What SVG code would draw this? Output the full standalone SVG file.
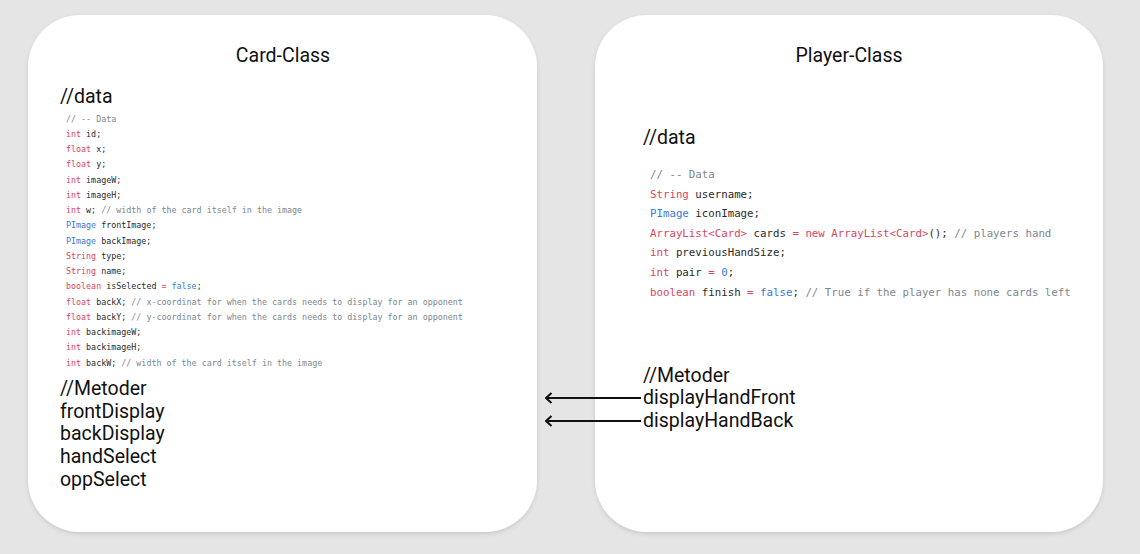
<svg xmlns="http://www.w3.org/2000/svg" width="1140" height="554" viewBox="0 0 1140 554">
<style>
.bg{fill:#e5e5e5}
.card{fill:#ffffff}
.title{font-family:Roboto,"Liberation Sans",sans-serif;font-size:19.5px;fill:#111;text-anchor:middle}
.big{font-family:Roboto,"Liberation Sans",sans-serif;font-size:19.5px;fill:#111}
.cs{font-family:"DejaVu Sans Mono","Liberation Mono",monospace;font-size:8.35px;fill:#2a2a2a}
.cl{font-family:"DejaVu Sans Mono","Liberation Mono",monospace;font-size:10.75px;fill:#2a2a2a}
.k{fill:#d9455f}
.b{fill:#3a78d6}
.c{fill:#7c8790}
.conn{stroke:#111;stroke-width:2;fill:none}
</style>
<defs>
<filter id="sh" x="-5%" y="-5%" width="110%" height="110%">
<feDropShadow dx="0" dy="2" stdDeviation="2" flood-color="#000" flood-opacity="0.12"/>
</filter>
<marker id="ah" viewBox="0 0 12 12" refX="11" refY="6" markerWidth="12" markerHeight="12" markerUnits="userSpaceOnUse" orient="auto">
<path d="M5.5,1 L11,6 L5.5,11" fill="none" stroke="#111" stroke-width="2"/>
</marker>
</defs>
<rect class="bg" x="0" y="0" width="1140" height="554"/>
<g id="card-class">
<rect class="card" x="28" y="15" width="509" height="517" rx="52" filter="url(#sh)"/>
<text class="title" x="283" y="62">Card-Class</text>
<text class="big" x="60" y="103">//data</text>
<text class="cs" x="66" y="122"><tspan class="c">// -- Data</tspan></text>
<text class="cs" x="66" y="137"><tspan class="k">int</tspan> id;</text>
<text class="cs" x="66" y="152"><tspan class="k">float</tspan> x;</text>
<text class="cs" x="66" y="167"><tspan class="k">float</tspan> y;</text>
<text class="cs" x="66" y="183"><tspan class="k">int</tspan> imageW;</text>
<text class="cs" x="66" y="198"><tspan class="k">int</tspan> imageH;</text>
<text class="cs" x="66" y="213"><tspan class="k">int</tspan> w; <tspan class="c">// width of the card itself in the image</tspan></text>
<text class="cs" x="66" y="228"><tspan class="b">PImage</tspan> frontImage;</text>
<text class="cs" x="66" y="244"><tspan class="b">PImage</tspan> backImage;</text>
<text class="cs" x="66" y="259"><tspan class="k">String</tspan> type;</text>
<text class="cs" x="66" y="274"><tspan class="k">String</tspan> name;</text>
<text class="cs" x="66" y="289"><tspan class="k">boolean</tspan> isSelected <tspan class="k">=</tspan> <tspan class="b">false</tspan>;</text>
<text class="cs" x="66" y="305"><tspan class="k">float</tspan> backX; <tspan class="c">// x-coordinat for when the cards needs to display for an opponent</tspan></text>
<text class="cs" x="66" y="320"><tspan class="k">float</tspan> backY; <tspan class="c">// y-coordinat for when the cards needs to display for an opponent</tspan></text>
<text class="cs" x="66" y="335"><tspan class="k">int</tspan> backimageW;</text>
<text class="cs" x="66" y="350"><tspan class="k">int</tspan> backimageH;</text>
<text class="cs" x="66" y="366"><tspan class="k">int</tspan> backW; <tspan class="c">// width of the card itself in the image</tspan></text>
<text class="big" x="60" y="395">//Metoder</text>
<text class="big" x="60" y="418">frontDisplay</text>
<text class="big" x="60" y="440">backDisplay</text>
<text class="big" x="60" y="463">handSelect</text>
<text class="big" x="60" y="486">oppSelect</text>
</g>
<g id="player-class">
<rect class="card" x="595" y="15" width="508" height="517" rx="52" filter="url(#sh)"/>
<text class="title" x="849" y="62">Player-Class</text>
<text class="big" x="643" y="144">//data</text>
<text class="cl" x="650" y="178"><tspan class="c">// -- Data</tspan></text>
<text class="cl" x="650" y="198"><tspan class="k">String</tspan> username;</text>
<text class="cl" x="650" y="217"><tspan class="b">PImage</tspan> iconImage;</text>
<text class="cl" x="650" y="237"><tspan class="k">ArrayList&lt;Card&gt;</tspan> cards <tspan class="k">=</tspan> <tspan class="k">new</tspan> <tspan class="k">ArrayList&lt;Card&gt;</tspan>(); <tspan class="c">// players hand</tspan></text>
<text class="cl" x="650" y="256"><tspan class="k">int</tspan> previousHandSize;</text>
<text class="cl" x="650" y="276"><tspan class="k">int</tspan> pair <tspan class="k">=</tspan> <tspan class="b">0</tspan>;</text>
<text class="cl" x="650" y="296"><tspan class="k">boolean</tspan> finish <tspan class="k">=</tspan> <tspan class="b">false</tspan>; <tspan class="c">// True if the player has none cards left</tspan></text>
<text class="big" x="643" y="382">//Metoder</text>
<text class="big" x="643" y="404">displayHandFront</text>
<text class="big" x="643" y="427">displayHandBack</text>
</g>
<g id="connectors">
<line class="conn" x1="641" y1="398" x2="546" y2="398" marker-end="url(#ah)"/>
<line class="conn" x1="641" y1="421" x2="546" y2="421" marker-end="url(#ah)"/>
</g>
</svg>
